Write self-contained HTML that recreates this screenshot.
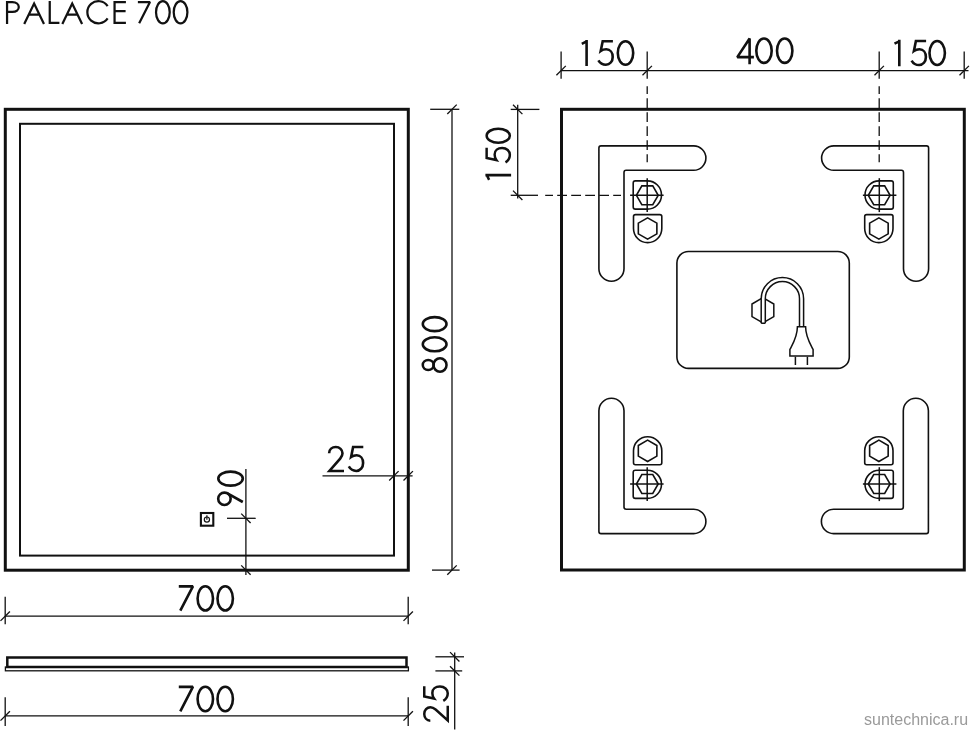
<!DOCTYPE html>
<html><head><meta charset="utf-8"><style>
html,body{margin:0;padding:0;background:#fff;width:970px;height:731px;overflow:hidden}
svg{position:absolute;left:0;top:0}
.wm{position:absolute;left:864px;top:710.5px;font-family:"Liberation Sans",sans-serif;font-size:16px;color:#9a9a9a;white-space:nowrap;transform:translateZ(0);will-change:transform}
</style></head><body>
<svg width="970" height="731" viewBox="0 0 970 731" stroke="#111" fill="none" stroke-linecap="butt"><g stroke-width="2.3"><g transform="translate(5.90,0.90) scale(0.8592592592592593,0.8592592592592593)" stroke-width="2.6" fill="none"><g transform="translate(0.00,0.00)"><path d="M1.35,27 V1.35 H7.6 C12.1,1.35 15.0,3.9 15.0,7.1 C15.0,10.4 12.1,12.8 7.6,12.8 H1.35"/></g><g transform="translate(20.13,0.00)"><path d="M1.2,27 L12.7,3.0 L24.2,27 M5.8,16.0 H19.6"/></g><g transform="translate(49.58,0.00)"><path d="M1.45,0 V25.65 H12.7"/></g><g transform="translate(64.47,0.00)"><path d="M1.2,27 L12.7,3.0 L24.2,27 M5.8,16.0 H19.6"/></g><g transform="translate(92.75,0.00)"><path d="M25.65,5.99 A12.9,12.9 0 1 0 25.65,20.41"/></g><g transform="translate(125.11,0.00)"><path d="M14.55,1.3 H1.35 V25.7 H14.55 M1.35,12.0 H14.2"/></g><g transform="translate(152.69,0.00)"><path d="M0.9,1.4 H15.0 L2.4,25.9" stroke-linejoin="bevel"/></g><g transform="translate(173.41,0.00)"><ellipse cx="9.27" cy="13.2" rx="7.97" ry="12.9"/></g><g transform="translate(194.00,0.00)"><ellipse cx="9.27" cy="13.2" rx="7.97" ry="12.9"/></g></g></g><rect x="5.3" y="109.3" width="403" height="460.9" stroke-width="3" fill="none"/><rect x="20" y="123.8" width="374" height="431.8" stroke-width="2" fill="none"/><rect x="200.9" y="513.0" width="12.4" height="12.7" stroke-width="2.1" fill="none"/><circle cx="206.9" cy="519.6" r="2.6" stroke-width="1.2" fill="none"/><line x1="206.9" y1="515.2" x2="206.9" y2="519.8" stroke-width="1.2"/><line x1="452.00" y1="109.30" x2="452.00" y2="570.10" stroke-width="1.3" /><line x1="430.20" y1="109.30" x2="459.30" y2="109.30" stroke-width="1.3" /><line x1="432.00" y1="570.10" x2="459.60" y2="570.10" stroke-width="1.3" /><line x1="447.30" y1="114.00" x2="456.70" y2="104.60" stroke-width="1.3" /><line x1="447.30" y1="574.80" x2="456.70" y2="565.40" stroke-width="1.3" /><g transform="translate(421.50,373.00) rotate(-90) scale(1.0,0.9740740740740741)" stroke-width="2.6" fill="none"><g transform="translate(0.00,0.00)"><ellipse cx="8" cy="6.9" rx="5" ry="5.6"/><ellipse cx="8" cy="19.0" rx="6.7" ry="6.7"/></g><g transform="translate(20.40,0.00)"><ellipse cx="8.3" cy="13.5" rx="7.0" ry="12.2"/></g><g transform="translate(40.60,0.00)"><ellipse cx="8.3" cy="13.5" rx="7.0" ry="12.2"/></g></g><line x1="322.50" y1="475.80" x2="412.60" y2="475.80" stroke-width="1.3" /><line x1="389.20" y1="480.50" x2="398.60" y2="471.10" stroke-width="1.3" /><line x1="403.50" y1="480.50" x2="412.90" y2="471.10" stroke-width="1.3" /><g transform="translate(327.60,445.80) scale(1.0,0.9777777777777777)" stroke-width="2.6" fill="none"><g transform="translate(0.00,0.00)"><path d="M1.5,7.6 C1.6,3.9 4.5,1.3 8.2,1.3 C12.0,1.3 14.9,4.1 14.9,7.7 C14.9,9.7 14.1,11.3 12.6,13.1 L1.8,25.7 H16.4"/></g><g transform="translate(19.80,0.00)"><path d="M15.9,1.3 H5.7 L3.7,11.5 C5.3,10.3 7.2,9.7 9.3,9.7 C13.1,9.7 15.7,13.0 15.7,17.6 C15.7,22.3 12.8,25.7 8.9,25.7 C5.7,25.7 3.0,23.9 1.4,21.1"/></g></g><line x1="245.90" y1="469.00" x2="245.90" y2="575.00" stroke-width="1.3" /><line x1="227.00" y1="518.30" x2="255.70" y2="518.30" stroke-width="1.3" /><line x1="241.20" y1="513.60" x2="250.60" y2="523.00" stroke-width="1.3" /><line x1="241.20" y1="565.40" x2="250.60" y2="574.80" stroke-width="1.3" /><g transform="translate(217.00,506.30) rotate(-90) scale(1.0,1.0037037037037038)" stroke-width="2.6" fill="none"><g transform="translate(0.00,0.00)"><circle cx="7.5" cy="7.4" r="6.2"/><path d="M12.90,10.44 L4.3,25.7"/></g><g transform="translate(19.40,0.00)"><ellipse cx="8.3" cy="13.5" rx="7.0" ry="12.2"/></g></g><line x1="5.20" y1="616.20" x2="408.20" y2="616.20" stroke-width="1.3" /><line x1="5.20" y1="596.80" x2="5.20" y2="624.20" stroke-width="1.3" /><line x1="408.20" y1="596.80" x2="408.20" y2="624.20" stroke-width="1.3" /><line x1="0.50" y1="620.90" x2="9.90" y2="611.50" stroke-width="1.3" /><line x1="403.50" y1="620.90" x2="412.90" y2="611.50" stroke-width="1.3" /><g transform="translate(177.90,585.00) scale(1.0,0.9925925925925926)" stroke-width="2.6" fill="none"><g transform="translate(0.00,0.00)"><path d="M0.9,1.4 H15.0 L2.4,25.9" stroke-linejoin="bevel"/></g><g transform="translate(18.40,0.00)"><ellipse cx="9" cy="13.5" rx="7.7" ry="12.2"/></g><g transform="translate(38.30,0.00)"><ellipse cx="9" cy="13.5" rx="7.7" ry="12.2"/></g></g><rect x="7.3" y="657.5" width="399.2" height="9.5" stroke-width="2.5" fill="none"/><rect x="5.4" y="667" width="403" height="3.8" stroke-width="1.3" fill="none"/><line x1="5.20" y1="715.90" x2="408.20" y2="715.90" stroke-width="1.3" /><line x1="5.20" y1="697.30" x2="5.20" y2="725.90" stroke-width="1.3" /><line x1="408.20" y1="697.30" x2="408.20" y2="725.90" stroke-width="1.3" /><line x1="0.50" y1="720.60" x2="9.90" y2="711.20" stroke-width="1.3" /><line x1="403.50" y1="720.60" x2="412.90" y2="711.20" stroke-width="1.3" /><g transform="translate(177.90,685.50) scale(1.0,1.0)" stroke-width="2.6" fill="none"><g transform="translate(0.00,0.00)"><path d="M0.9,1.4 H15.0 L2.4,25.9" stroke-linejoin="bevel"/></g><g transform="translate(18.40,0.00)"><ellipse cx="9" cy="13.5" rx="7.7" ry="12.2"/></g><g transform="translate(38.30,0.00)"><ellipse cx="9" cy="13.5" rx="7.7" ry="12.2"/></g></g><line x1="454.70" y1="652.40" x2="454.70" y2="729.60" stroke-width="1.3" /><line x1="435.40" y1="656.80" x2="464.00" y2="656.80" stroke-width="1.3" /><line x1="435.40" y1="670.90" x2="462.20" y2="670.90" stroke-width="1.3" /><line x1="450.00" y1="652.10" x2="459.40" y2="661.50" stroke-width="1.3" /><line x1="450.00" y1="666.20" x2="459.40" y2="675.60" stroke-width="1.3" /><g transform="translate(423.00,722.20) rotate(-90) scale(1.0,0.9629629629629629)" stroke-width="2.6" fill="none"><g transform="translate(0.00,0.00)"><path d="M1.5,7.6 C1.6,3.9 4.5,1.3 8.2,1.3 C12.0,1.3 14.9,4.1 14.9,7.7 C14.9,9.7 14.1,11.3 12.6,13.1 L1.8,25.7 H16.4"/></g><g transform="translate(20.00,0.00)"><path d="M15.9,1.3 H5.7 L3.7,11.5 C5.3,10.3 7.2,9.7 9.3,9.7 C13.1,9.7 15.7,13.0 15.7,17.6 C15.7,22.3 12.8,25.7 8.9,25.7 C5.7,25.7 3.0,23.9 1.4,21.1"/></g></g><rect x="561.5" y="109.3" width="402.8" height="460.7" stroke-width="3" fill="none"/><line x1="561.10" y1="70.60" x2="968.50" y2="70.60" stroke-width="1.3" /><line x1="561.10" y1="51.60" x2="561.10" y2="78.70" stroke-width="1.3" /><line x1="556.40" y1="75.30" x2="565.80" y2="65.90" stroke-width="1.3" /><line x1="647.20" y1="51.60" x2="647.20" y2="78.70" stroke-width="1.3" /><line x1="642.50" y1="75.30" x2="651.90" y2="65.90" stroke-width="1.3" /><line x1="879.20" y1="51.60" x2="879.20" y2="78.70" stroke-width="1.3" /><line x1="874.50" y1="75.30" x2="883.90" y2="65.90" stroke-width="1.3" /><line x1="964.20" y1="51.60" x2="964.20" y2="78.70" stroke-width="1.3" /><line x1="959.50" y1="75.30" x2="968.90" y2="65.90" stroke-width="1.3" /><g transform="translate(581.00,40.00) scale(1.0,0.9629629629629629)" stroke-width="2.6" fill="none"><g transform="translate(0.00,0.00)"><path d="M5.6,0 V27 M0.8,3.9 L5.6,1.5"/></g><g transform="translate(16.00,0.00)"><path d="M15.9,1.3 H5.7 L3.7,11.5 C5.3,10.3 7.2,9.7 9.3,9.7 C13.1,9.7 15.7,13.0 15.7,17.6 C15.7,22.3 12.8,25.7 8.9,25.7 C5.7,25.7 3.0,23.9 1.4,21.1"/></g><g transform="translate(35.50,0.00)"><ellipse cx="9" cy="13.5" rx="7.7" ry="12.2"/></g></g><g transform="translate(736.00,37.20) scale(1.0,1.0)" stroke-width="2.6" fill="none"><g transform="translate(0.00,0.00)"><path d="M13.6,27 V1.3 L1.3,19.9 H17.9" stroke-linejoin="bevel"/></g><g transform="translate(19.00,0.00)"><ellipse cx="9" cy="13.5" rx="7.7" ry="12.2"/></g><g transform="translate(39.70,0.00)"><ellipse cx="9" cy="13.5" rx="7.7" ry="12.2"/></g></g><g transform="translate(893.70,39.80) scale(1.0,0.9814814814814815)" stroke-width="2.6" fill="none"><g transform="translate(0.00,0.00)"><path d="M5.6,0 V27 M0.8,3.9 L5.6,1.5"/></g><g transform="translate(16.50,0.00)"><path d="M15.9,1.3 H5.7 L3.7,11.5 C5.3,10.3 7.2,9.7 9.3,9.7 C13.1,9.7 15.7,13.0 15.7,17.6 C15.7,22.3 12.8,25.7 8.9,25.7 C5.7,25.7 3.0,23.9 1.4,21.1"/></g><g transform="translate(34.50,0.00)"><ellipse cx="9" cy="13.5" rx="7.7" ry="12.2"/></g></g><line x1="647.20" y1="86.20" x2="647.20" y2="162.30" stroke-width="1.3" stroke-dasharray="9.8 4.2" stroke-dashoffset="2"/><line x1="879.20" y1="86.20" x2="879.20" y2="162.30" stroke-width="1.3" stroke-dasharray="9.8 4.2" stroke-dashoffset="2"/><line x1="517.70" y1="104.80" x2="517.70" y2="198.50" stroke-width="1.3" /><line x1="510.70" y1="109.40" x2="539.40" y2="109.40" stroke-width="1.3" /><line x1="510.70" y1="195.30" x2="538.00" y2="195.30" stroke-width="1.3" /><line x1="545.20" y1="195.30" x2="621.00" y2="195.30" stroke-width="1.3" stroke-dasharray="9.8 4.2" stroke-dashoffset="2"/><line x1="513.00" y1="104.70" x2="522.40" y2="114.10" stroke-width="1.3" /><line x1="513.00" y1="190.60" x2="522.40" y2="200.00" stroke-width="1.3" /><g transform="translate(485.40,180.70) rotate(-90) scale(1.0,0.9518518518518518)" stroke-width="2.6" fill="none"><g transform="translate(0.00,0.00)"><path d="M5.6,0 V27 M0.8,3.9 L5.6,1.5"/></g><g transform="translate(17.00,0.00)"><path d="M15.9,1.3 H5.7 L3.7,11.5 C5.3,10.3 7.2,9.7 9.3,9.7 C13.1,9.7 15.7,13.0 15.7,17.6 C15.7,22.3 12.8,25.7 8.9,25.7 C5.7,25.7 3.0,23.9 1.4,21.1"/></g><g transform="translate(36.70,0.00)"><ellipse cx="8.3" cy="13.5" rx="7.0" ry="12.2"/></g></g><g stroke-width="1.6" fill="none"><path transform="" d="M693.7,145.9 H601 Q598.9,145.9 598.9,148 V268.7 A12.55,12.55 0 0 0 624.0,268.7 V172.4 Q624.0,170.3 626.1,170.3 H693.7 A12.2,12.2 0 0 0 693.7,145.9 Z"/><g transform=""><path d="M647.4,180.9 H635.3 Q633.2,180.9 633.2,183 V207 Q633.2,209.1 635.3,209.1 H647.4 A14.1,14.1 0 0 0 647.4,180.9 Z"/><polygon points="658.20,195.30 652.75,204.74 641.85,204.74 636.40,195.30 641.85,185.86 652.75,185.86"/><line x1="647.2" y1="178.2" x2="647.2" y2="212.1" stroke-width="1.5"/><line x1="630.1" y1="195.3" x2="663.6" y2="195.3" stroke-width="1.5"/><path d="M633.5,228.45 V216.6 Q633.5,214.6 635.5,214.6 H659.8 Q661.8,214.6 661.8,216.6 V228.45 A14.15,14.15 0 0 1 633.5,228.45 Z"/><polygon points="656.87,233.85 647.60,239.20 638.33,233.85 638.33,223.15 647.60,217.80 656.87,223.15"/></g><path transform="translate(1527.5,0) scale(-1,1)" d="M693.7,145.9 H601 Q598.9,145.9 598.9,148 V268.7 A12.55,12.55 0 0 0 624.0,268.7 V172.4 Q624.0,170.3 626.1,170.3 H693.7 A12.2,12.2 0 0 0 693.7,145.9 Z"/><g transform="translate(1526.5,0) scale(-1,1)"><path d="M647.4,180.9 H635.3 Q633.2,180.9 633.2,183 V207 Q633.2,209.1 635.3,209.1 H647.4 A14.1,14.1 0 0 0 647.4,180.9 Z"/><polygon points="658.20,195.30 652.75,204.74 641.85,204.74 636.40,195.30 641.85,185.86 652.75,185.86"/><line x1="647.2" y1="178.2" x2="647.2" y2="212.1" stroke-width="1.5"/><line x1="630.1" y1="195.3" x2="663.6" y2="195.3" stroke-width="1.5"/><path d="M633.5,228.45 V216.6 Q633.5,214.6 635.5,214.6 H659.8 Q661.8,214.6 661.8,216.6 V228.45 A14.15,14.15 0 0 1 633.5,228.45 Z"/><polygon points="656.87,233.85 647.60,239.20 638.33,233.85 638.33,223.15 647.60,217.80 656.87,223.15"/></g><path transform="translate(0,679.5) scale(1,-1)" d="M693.7,145.9 H601 Q598.9,145.9 598.9,148 V268.7 A12.55,12.55 0 0 0 624.0,268.7 V172.4 Q624.0,170.3 626.1,170.3 H693.7 A12.2,12.2 0 0 0 693.7,145.9 Z"/><g transform="translate(0,679.3) scale(1,-1)"><path d="M647.4,180.9 H635.3 Q633.2,180.9 633.2,183 V207 Q633.2,209.1 635.3,209.1 H647.4 A14.1,14.1 0 0 0 647.4,180.9 Z"/><polygon points="658.20,195.30 652.75,204.74 641.85,204.74 636.40,195.30 641.85,185.86 652.75,185.86"/><line x1="647.2" y1="178.2" x2="647.2" y2="212.1" stroke-width="1.5"/><line x1="630.1" y1="195.3" x2="663.6" y2="195.3" stroke-width="1.5"/><path d="M633.5,228.45 V216.6 Q633.5,214.6 635.5,214.6 H659.8 Q661.8,214.6 661.8,216.6 V228.45 A14.15,14.15 0 0 1 633.5,228.45 Z"/><polygon points="656.87,233.85 647.60,239.20 638.33,233.85 638.33,223.15 647.60,217.80 656.87,223.15"/></g><path transform="translate(1527.3,679.5) scale(-1,-1)" d="M693.7,145.9 H601 Q598.9,145.9 598.9,148 V268.7 A12.55,12.55 0 0 0 624.0,268.7 V172.4 Q624.0,170.3 626.1,170.3 H693.7 A12.2,12.2 0 0 0 693.7,145.9 Z"/><g transform="translate(1526.5,679.3) scale(-1,-1)"><path d="M647.4,180.9 H635.3 Q633.2,180.9 633.2,183 V207 Q633.2,209.1 635.3,209.1 H647.4 A14.1,14.1 0 0 0 647.4,180.9 Z"/><polygon points="658.20,195.30 652.75,204.74 641.85,204.74 636.40,195.30 641.85,185.86 652.75,185.86"/><line x1="647.2" y1="178.2" x2="647.2" y2="212.1" stroke-width="1.5"/><line x1="630.1" y1="195.3" x2="663.6" y2="195.3" stroke-width="1.5"/><path d="M633.5,228.45 V216.6 Q633.5,214.6 635.5,214.6 H659.8 Q661.8,214.6 661.8,216.6 V228.45 A14.15,14.15 0 0 1 633.5,228.45 Z"/><polygon points="656.87,233.85 647.60,239.20 638.33,233.85 638.33,223.15 647.60,217.80 656.87,223.15"/></g></g><rect x="676.9" y="251.5" width="172.4" height="116.9" rx="11.5" stroke-width="1.6" fill="none"/><g stroke-width="1.5" fill="none"><polygon points="773.81,316.60 762.90,322.90 751.99,316.60 751.99,304.00 762.90,297.70 773.81,304.00"/><path d="M761.2,323.3 V298.7 A21.2,21.2 0 0 1 803.6,298.7 V326.8 H799.5 V298.7 A17.1,17.1 0 0 0 765.3,298.7 V323.3 Z" fill="#fff" stroke="none"/><path d="M761.2,323.3 V298.7 A21.2,21.2 0 0 1 803.6,298.7 V326.8 M765.3,323.3 V298.7 A17.1,17.1 0 0 1 799.5,298.7 V326.8 M761.2,323.3 H765.3"/><path d="M797.4,326.8 H805.6 C805.6,337 810,343.5 813.1,349.4 V356.1 H789.9 V349.4 C793,343.5 797.4,337 797.4,326.8 Z" fill="#fff"/><path d="M795.4,356.8 V365 M807.4,356.8 V365"/></g></svg>
<div class="wm">suntechnica.ru</div>
</body></html>
